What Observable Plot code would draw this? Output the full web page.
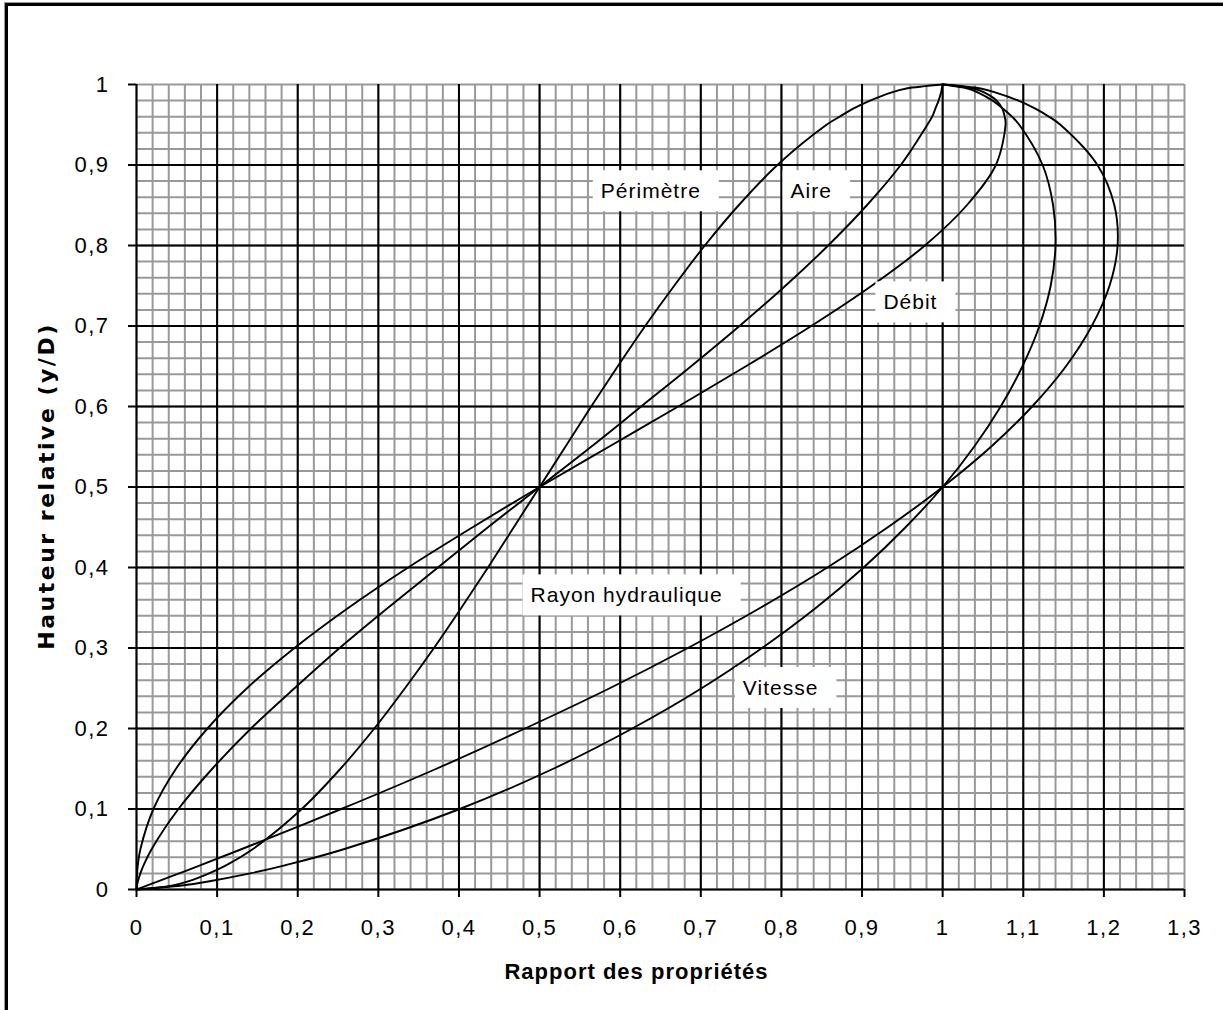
<!DOCTYPE html>
<html>
<head>
<meta charset="utf-8">
<script src="https://cdn.jsdelivr.net/npm/d3@7"></script>
<script src="https://cdn.jsdelivr.net/npm/@observablehq/plot@0.6"></script>
<style>
  html, body { margin: 0; padding: 0; background: #fff; }
  #wrap { position: relative; width: 1223px; height: 1010px; overflow: hidden; background: #fff; }
  #wrap svg { position: absolute; left: 0; top: 0; }
  #frame { position: absolute; left: 5px; top: 3px; width: 1240px; height: 1030px;
           border-left: 3px solid #000; border-top: 3px solid #000;
           box-shadow: -1px -1px 0 #9a9a9a; pointer-events: none; }
  g[aria-label="x-axis tick label"] text, g[aria-label="y-axis tick label"] text { letter-spacing: 1.5px; }
</style>
</head>
<body>
<div id="wrap"><div id="frame"></div></div>
<script>
// Relative height y/D (vertical axis) at which each curve was read
const hauteur   = [0, 0.005, 0.01, 0.02, 0.03, 0.05, 0.1, 0.15, 0.2, 0.25, 0.3, 0.35, 0.4, 0.45, 0.5,
                   0.55, 0.6, 0.65, 0.7, 0.75, 0.8, 0.85, 0.9, 0.95, 0.96, 0.97, 0.98, 0.99, 0.995, 1];
// Ratio of properties (horizontal axis) for each curve
const perimetre = [0, 0.045, 0.064, 0.090, 0.111, 0.144, 0.205, 0.253, 0.295, 0.333, 0.369, 0.403, 0.436, 0.468, 0.5,
                   0.532, 0.564, 0.597, 0.631, 0.667, 0.705, 0.747, 0.795, 0.856, 0.872, 0.889, 0.910, 0.936, 0.955, 1];
const aire      = [0, 0.0006, 0.0017, 0.0048, 0.0087, 0.0187, 0.052, 0.094, 0.142, 0.196, 0.252, 0.312, 0.374, 0.436, 0.5,
                   0.564, 0.626, 0.688, 0.748, 0.805, 0.858, 0.906, 0.948, 0.981, 0.987, 0.991, 0.995, 0.998, 0.999, 1];
const debit     = [0, 0.00003, 0.00015, 0.0007, 0.0016, 0.0048, 0.021, 0.049, 0.088, 0.137, 0.196, 0.263, 0.337, 0.417, 0.5,
                   0.586, 0.672, 0.756, 0.837, 0.912, 0.978, 1.030, 1.066, 1.078, 1.077, 1.074, 1.067, 1.052, 1.038, 1];
const rayon     = [0, 0.0133, 0.0267, 0.0529, 0.0788, 0.130, 0.254, 0.372, 0.482, 0.587, 0.684, 0.774, 0.857, 0.932, 1,
                   1.060, 1.111, 1.153, 1.185, 1.207, 1.217, 1.213, 1.192, 1.146, 1.132, 1.115, 1.094, 1.066, 1.047, 1];
const vitesse   = [0, 0.056, 0.089, 0.141, 0.184, 0.257, 0.401, 0.517, 0.615, 0.701, 0.776, 0.843, 0.902, 0.954, 1,
                   1.039, 1.072, 1.099, 1.120, 1.134, 1.140, 1.137, 1.124, 1.095, 1.086, 1.075, 1.062, 1.044, 1.031, 1];

const xTicks      = [0, 0.1, 0.2, 0.3, 0.4, 0.5, 0.6, 0.7, 0.8, 0.9, 1, 1.1, 1.2, 1.3];
const xTickLabels = ["0", "0,1", "0,2", "0,3", "0,4", "0,5", "0,6", "0,7", "0,8", "0,9", "1", "1,1", "1,2", "1,3"];
const yTicks      = [0, 0.1, 0.2, 0.3, 0.4, 0.5, 0.6, 0.7, 0.8, 0.9, 1];
const yTickLabels = ["0", "0,1", "0,2", "0,3", "0,4", "0,5", "0,6", "0,7", "0,8", "0,9", "1"];

const curveNames = ["Périmètre", "Aire", "Débit", "Rayon hydraulique", "Vitesse"];
const curveSeries = [perimetre, aire, debit, rayon, vitesse];
// label anchor points (data units)
const labelX = [0.638, 0.837, 0.960, 0.608, 0.799];
const labelY = [0.867, 0.867, 0.729, 0.365, 0.250];

const xTitle = "Rapport des propriétés";
const yTitle = "Hauteur relative (y/D)";

// build tables
const rows = [];
curveNames.forEach((name, k) => {
  hauteur.forEach((h, i) => rows.push({curve: name, x: curveSeries[k][i], y: h}));
});
const labels = curveNames.map((name, k) => ({text: name, x: labelX[k], y: labelY[k]}));

const minorX = d3.range(0, 66).map(i => i / 50);
const minorY = d3.range(0, 51).map(i => i / 50);

const chart = Plot.plot({
  width: 1223,
  height: 1010,
  marginLeft: 136,
  marginRight: 39,
  marginTop: 84,
  marginBottom: 121,
  x: {domain: [0, 1.3]},
  y: {domain: [0, 1]},
  style: {fontFamily: "'Liberation Sans', Arial, sans-serif", fontSize: "22px", color: "#000", background: "transparent"},
  marks: [
    Plot.ruleX(minorX, {stroke: "#999", strokeWidth: 2}),
    Plot.ruleY(minorY, {stroke: "#999", strokeWidth: 2}),
    Plot.ruleX(xTicks.filter(d => d < 1.25), {stroke: "#000", strokeWidth: 2}),
    Plot.ruleY(yTicks.filter(d => d < 0.95), {stroke: "#000", strokeWidth: 2}),
    Plot.axisX({ticks: xTicks, tickFormat: (d) => xTickLabels[xTicks.indexOf(d)], tickSize: 8, tickPadding: 22,
                strokeWidth: 2, label: null, fontSize: 22}),
    Plot.axisY({ticks: yTicks, tickFormat: (d) => yTickLabels[yTicks.indexOf(d)], tickSize: 8, tickPadding: 19,
                strokeWidth: 2, label: null, fontSize: 22}),
    Plot.line(rows, {x: "x", y: "y", z: "curve", curve: "catmull-rom", stroke: "#000", strokeWidth: 1.9}),
    Plot.text(labels, {x: "x", y: "y", text: "text", fontSize: 21, fill: "#000", textAnchor: "middle", lineAnchor: "middle"}),
    Plot.text([xTitle], {frameAnchor: "bottom", dx: -24, dy: 82, textAnchor: "middle", lineAnchor: "middle",
                         fontWeight: "bold", fontSize: 22}),
    Plot.text([yTitle], {frameAnchor: "left", dx: -90, dy: -1, rotate: -90, textAnchor: "middle", lineAnchor: "middle",
                         fontFamily: "'DejaVu Sans', sans-serif", fontWeight: "bold", fontSize: 22})
  ]
});

document.getElementById("wrap").insertBefore(chart, document.getElementById("frame"));

// per-text styling and white boxes behind curve labels
for (const t of chart.querySelectorAll("text")) {
  const s = t.textContent;
  if (s === xTitle) t.style.letterSpacing = "1px";
  if (s === yTitle) t.style.letterSpacing = "2.5px";
  if (curveNames.includes(s)) {
    t.style.letterSpacing = "1px";
    const b = t.getBBox();
    const r = document.createElementNS("http://www.w3.org/2000/svg", "rect");
    r.setAttribute("x", b.x - 8);
    r.setAttribute("y", b.y - 9);
    r.setAttribute("width", b.width + 26);
    r.setAttribute("height", b.height + 18);
    r.setAttribute("fill", "#fff");
    const tr = t.getAttribute("transform");
    if (tr) r.setAttribute("transform", tr);
    t.parentNode.insertBefore(r, t);
  }
}
</script>
</body>
</html>
